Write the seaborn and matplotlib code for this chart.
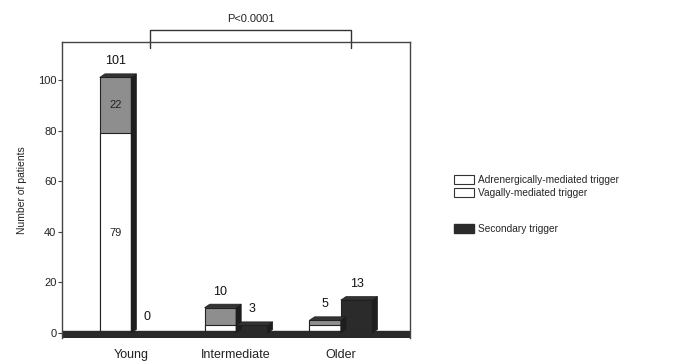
import matplotlib
matplotlib.use("Agg")
import matplotlib.pyplot as plt
import seaborn as sns
import pandas as pd
from matplotlib.patches import Patch, Polygon

categories = ["Young", "Intermediate", "Older"]
vagal = [79, 3, 3]
adrenergic = [22, 7, 2]
secondary = [0, 3, 13]
totals = [v + a for v, a in zip(vagal, adrenergic)]
yticks = [0, 20, 40, 60, 80, 100]
p_text = "P<0.0001"
legend_labels = ["Adrenergically-mediated trigger", "Vagally-mediated trigger", "Secondary trigger"]

sns.set_theme(style="white")
plt.rcParams["font.family"] = ["Liberation Sans", "DejaVu Sans"]

df_tot = pd.DataFrame({
    "group": categories * 2,
    "kind": ["Stacked"] * 3 + ["Secondary"] * 3,
    "value": totals + secondary,
})
df_vag = pd.DataFrame({
    "group": categories * 2,
    "kind": ["Stacked"] * 3 + ["Secondary"] * 3,
    "value": vagal + [0, 0, 0],
})

fig = plt.figure(figsize=(6.85, 3.62), dpi=100)
ax = fig.add_axes([0.0905, 0.0675, 0.508, 0.8166])

hue_order = ["Stacked", "Secondary"]
sns.barplot(data=df_tot, x="group", y="value", hue="kind", hue_order=hue_order,
            palette={"Stacked": "#8e8e8e", "Secondary": "#2b2b2b"},
            width=0.6, dodge=True, edgecolor="#222222", linewidth=0.8, ax=ax, legend=False)
n_before = len(ax.patches)
sns.barplot(data=df_vag, x="group", y="value", hue="kind", hue_order=hue_order,
            palette={"Stacked": "white", "Secondary": "#2b2b2b"},
            width=0.6, dodge=True, edgecolor="#222222", linewidth=0.8, ax=ax, legend=False)

# pseudo-3D depth on the total bars
dx, dy = 0.05, 1.4
for p in ax.patches[:n_before]:
    h = p.get_height()
    if h <= 0:
        continue
    x0 = p.get_x(); x1 = x0 + p.get_width(); y1 = h
    side = Polygon([(x1, 0), (x1 + dx, dy), (x1 + dx, y1 + dy), (x1, y1)],
                   closed=True, facecolor="#1e1e1e", edgecolor="#1e1e1e", lw=0.5, zorder=3)
    top = Polygon([(x0, y1), (x0 + dx, y1 + dy), (x1 + dx, y1 + dy), (x1, y1)],
                  closed=True, facecolor="#333333", edgecolor="#1e1e1e", lw=0.5, zorder=3)
    ax.add_patch(side); ax.add_patch(top)

# floor band
ax.axhspan(-1.8, 0.8, color="#2a2a2a", zorder=1)

ax.set_xlim(-0.66, 2.66)
ax.set_ylim(-1.8, 115)
ax.set_yticks(yticks)
ax.set_yticklabels([str(t) for t in yticks], fontsize=8, color="#222222")
ax.tick_params(axis="y", left=True, length=3, width=0.8, color="#444444", pad=1)
ax.tick_params(axis="x", bottom=False, labelsize=9, pad=2, colors="#222222")
ax.set_xlabel("")
ax.set_ylabel("Number of patients", fontsize=7.5, color="#222222", labelpad=8)
for s in ["left", "top", "right"]:
    ax.spines[s].set_visible(True)
    ax.spines[s].set_color("#444444")
    ax.spines[s].set_linewidth(1.0)
ax.spines["bottom"].set_visible(False)

# value labels
bars_tot = [p for p in ax.containers[0]]
bars_sec = [p for p in ax.containers[1]]
for i, b in enumerate(bars_tot):
    cx = b.get_x() + b.get_width() / 2
    ax.text(cx, totals[i] + 4, str(totals[i]), ha="center", va="bottom", fontsize=9, color="#111111")
for i, b in enumerate(bars_sec):
    cx = b.get_x() + b.get_width() / 2
    ax.text(cx, secondary[i] + 4, str(secondary[i]), ha="center", va="bottom", fontsize=9, color="#111111")
b0 = bars_tot[0]
cx0 = b0.get_x() + b0.get_width() / 2
ax.text(cx0, vagal[0] + adrenergic[0] / 2, str(adrenergic[0]), ha="center", va="center", fontsize=8, color="#222222")
ax.text(cx0, vagal[0] / 2, str(vagal[0]), ha="center", va="center", fontsize=8, color="#222222")

# significance bracket
bx0, bx1, by, bl = 0.18, 2.1, 119.8, 112.6
ax.plot([bx0, bx0, bx1, bx1], [bl, by, by, bl], color="#333333", lw=1, clip_on=False)
ax.text((bx0 + bx1) / 2, by + 2.2, p_text, ha="center", va="bottom", fontsize=8, color="#222222")

# legend
h1 = [Patch(facecolor="white", edgecolor="#333333", lw=0.8),
      Patch(facecolor="white", edgecolor="#333333", lw=0.8)]
leg1 = fig.legend(h1, legend_labels[:2], loc="upper left", bbox_to_anchor=(0.655, 0.53),
                  frameon=False, fontsize=7.3, handlelength=2.0, handleheight=1.0,
                  labelspacing=0.3, handletextpad=0.4, borderpad=0)
h2 = [Patch(facecolor="#2b2b2b", edgecolor="#2b2b2b")]
leg2 = fig.legend(h2, legend_labels[2:], loc="upper left", bbox_to_anchor=(0.655, 0.395),
                  frameon=False, fontsize=7.3, handlelength=2.0, handleheight=1.0,
                  handletextpad=0.4, borderpad=0)

fig.savefig("out.png", dpi=100)
